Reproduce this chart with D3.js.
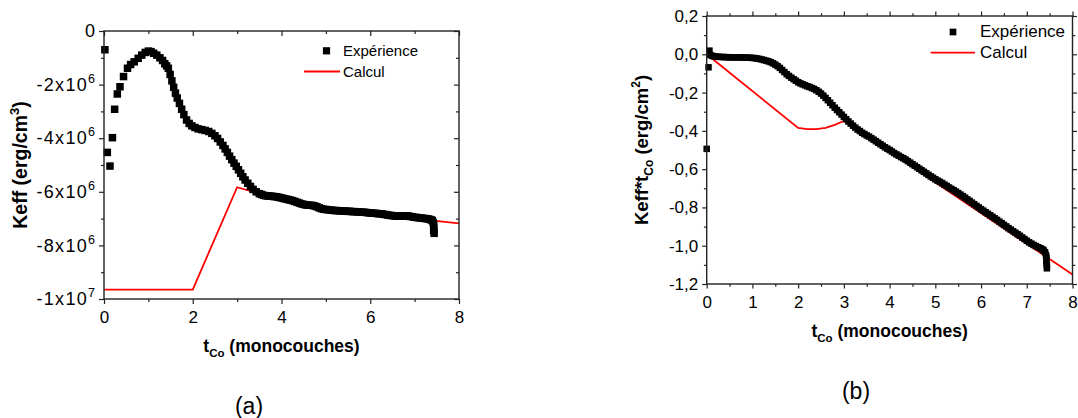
<!DOCTYPE html>
<html><head><meta charset="utf-8">
<script src="https://cdn.jsdelivr.net/npm/d3@7"></script>
<style>
body{margin:0;background:#fff}
svg{display:block}
text{font-family:Arial,"Liberation Sans",sans-serif;fill:#000}
</style>
</head><body>
<svg id="c" width="1078" height="418"></svg>
<script>
// ---------- Panel (a): Keff (units of 1e6 erg/cm3) vs t_Co ----------
const expA_x = [0.02,0.075,0.135,0.19,0.24,0.30,0.36,0.44,0.53,0.60,0.68,0.77,0.85,0.93,1.00,1.06,1.12,1.19,1.26,1.32,1.37,1.41,
  1.45,1.49,1.53,1.57,1.61,1.65,1.70,1.75,1.80,1.86,1.92,1.98,2.05,2.12,2.20,2.28,2.36,2.43,2.50,2.56,2.62,2.68,2.73,2.78,2.83,2.88,2.93,2.98,
  3.03,3.08,3.13,3.18,3.24,3.30,3.36,3.43,
  3.50,3.55,3.60,3.65,3.70,3.75,3.80,3.85,3.90,3.95,4.00,4.05,4.10,4.15,4.20,4.25,4.30,4.35,4.40,4.45,4.50,4.55,4.60,4.65,4.70,4.75,4.80,4.85,4.90,4.95,
  5.00,5.05,5.10,5.15,5.20,5.25,5.30,5.35,5.40,5.45,5.50,5.55,5.60,5.65,5.70,5.75,5.80,5.85,5.90,5.95,
  6.00,6.05,6.10,6.15,6.20,6.25,6.30,6.35,6.40,6.45,6.50,6.55,6.60,6.65,6.70,6.75,6.80,6.85,6.90,6.95,
  7.00,7.05,7.10,7.15,7.20,7.25,7.30,7.34,7.38,7.40,7.42,7.43,7.43,7.43,7.44];
const expA_y = [-0.70,-4.53,-5.04,-3.98,-2.92,-2.35,-2.08,-1.70,-1.39,-1.25,-1.15,-1.02,-0.90,-0.80,-0.75,-0.77,-0.83,-0.90,-1.00,-1.10,-1.22,-1.30,
  -1.39,-1.62,-1.86,-2.10,-2.32,-2.50,-2.70,-2.92,-3.12,-3.32,-3.45,-3.54,-3.60,-3.65,-3.68,-3.71,-3.75,-3.82,-3.91,-4.01,-4.14,-4.27,-4.40,-4.53,-4.67,-4.80,-4.93,-5.05,
  -5.18,-5.31,-5.44,-5.56,-5.68,-5.80,-5.91,-6.00,
  -6.07,-6.10,-6.13,-6.15,-6.16,-6.16,-6.17,-6.18,-6.19,-6.21,-6.23,-6.25,-6.27,-6.29,-6.31,-6.33,-6.36,-6.39,-6.42,-6.45,-6.47,-6.49,-6.50,-6.50,-6.51,-6.53,-6.56,-6.60,-6.63,-6.65,
  -6.66,-6.67,-6.68,-6.69,-6.70,-6.70,-6.71,-6.71,-6.72,-6.72,-6.73,-6.73,-6.74,-6.74,-6.75,-6.75,-6.76,-6.76,-6.77,-6.78,
  -6.79,-6.80,-6.80,-6.81,-6.82,-6.82,-6.84,-6.85,-6.87,-6.88,-6.89,-6.90,-6.91,-6.91,-6.90,-6.90,-6.90,-6.90,-6.92,-6.93,
  -6.95,-6.96,-6.97,-6.98,-6.99,-7.00,-7.01,-7.03,-7.05,-7.08,-7.15,-7.25,-7.35,-7.45,-7.55];
const calcA_x = [0, 2, 3, 4, 5, 6, 7, 8];
const calcA_y = [-9.65, -9.65, -5.83, -6.30, -6.60, -6.82, -7.00, -7.18];
const ticksA_x = [0, 2, 4, 6, 8];
const minorA_x = [1, 3, 5, 7];
const ticksA_y = [0, -2, -4, -6, -8, -10];
const minorA_y = [-1, -3, -5, -7, -9];
const tickLabA_y = [["0",""],["-2x10","6"],["-4x10","6"],["-6x10","6"],["-8x10","6"],["-1x10","7"]];

// ---------- Panel (b): Keff*t_Co (erg/cm2) vs t_Co ----------
const expB_x = [0.06,0.04,0.00,
  0.08,0.12,0.16,0.20,0.25,0.30,0.35,0.40,0.45,0.50,0.55,0.60,0.65,0.70,0.75,0.80,0.85,0.90,0.95,
  1.00,1.05,1.10,1.15,1.20,1.25,1.30,1.35,1.40,1.45,1.50,1.55,1.60,1.65,1.70,1.75,1.80,1.85,1.90,1.95,
  2.00,2.05,2.10,2.15,2.20,2.25,2.30,2.35,2.40,2.45,2.50,2.55,2.60,2.65,2.70,2.75,2.80,2.85,2.90,2.95,
  3.00,3.05,3.10,3.15,3.20,3.25,3.30,3.35,3.40,3.45,3.50,3.55,3.60,3.65,3.70,3.75,3.80,3.85,3.90,3.95,
  4.00,4.05,4.10,4.15,4.20,4.25,4.30,4.35,4.40,4.45,4.50,4.55,4.60,4.65,4.70,4.75,4.80,4.85,4.90,4.95,
  5.00,5.05,5.10,5.15,5.20,5.25,5.30,5.35,5.40,5.45,5.50,5.55,5.60,5.65,5.70,5.75,5.80,5.85,5.90,5.95,
  6.00,6.05,6.10,6.15,6.20,6.25,6.30,6.35,6.40,6.45,6.50,6.55,6.60,6.65,6.70,6.75,6.80,6.85,6.90,6.95,
  7.00,7.05,7.10,7.15,7.20,7.25,7.30,7.34,7.37,7.40,7.42,7.43,7.43,7.43,7.44,7.44];
const expB_y = [0.019,-0.068,-0.494,
  -0.004,-0.008,-0.011,-0.012,-0.013,-0.014,-0.014,-0.015,-0.015,-0.016,-0.016,-0.016,-0.016,-0.016,-0.016,-0.017,-0.017,-0.018,-0.018,
  -0.019,-0.020,-0.022,-0.024,-0.027,-0.030,-0.033,-0.037,-0.041,-0.047,-0.054,-0.062,-0.071,-0.082,-0.093,-0.104,-0.113,-0.122,-0.130,-0.138,
  -0.146,-0.152,-0.157,-0.162,-0.167,-0.171,-0.176,-0.181,-0.188,-0.196,-0.205,-0.216,-0.228,-0.240,-0.253,-0.266,-0.279,-0.291,-0.303,-0.315,
  -0.327,-0.339,-0.351,-0.362,-0.373,-0.383,-0.393,-0.401,-0.410,-0.417,-0.424,-0.430,-0.438,-0.446,-0.454,-0.462,-0.470,-0.478,-0.486,-0.493,
  -0.500,-0.508,-0.516,-0.523,-0.530,-0.537,-0.543,-0.550,-0.558,-0.566,-0.574,-0.582,-0.590,-0.598,-0.606,-0.614,-0.622,-0.630,-0.638,-0.645,
  -0.653,-0.660,-0.666,-0.673,-0.681,-0.688,-0.696,-0.703,-0.710,-0.717,-0.725,-0.733,-0.741,-0.749,-0.758,-0.766,-0.775,-0.783,-0.792,-0.800,
  -0.809,-0.817,-0.825,-0.833,-0.841,-0.849,-0.857,-0.865,-0.874,-0.882,-0.891,-0.899,-0.908,-0.916,-0.924,-0.932,-0.940,-0.948,-0.957,-0.965,
  -0.974,-0.982,-0.989,-0.996,-1.002,-1.008,-1.013,-1.019,-1.025,-1.034,-1.048,-1.062,-1.076,-1.090,-1.104,-1.118];
const calcB_x = [0, 2, 2.2, 2.4, 2.6, 2.8, 3, 8];
const calcB_y = [0, -0.385, -0.391, -0.391, -0.384, -0.369, -0.348, -1.150];
const ticksB_x = [0, 1, 2, 3, 4, 5, 6, 7, 8];
const minorB_x = [0.5, 1.5, 2.5, 3.5, 4.5, 5.5, 6.5, 7.5];
const ticksB_y = [0.2, 0, -0.2, -0.4, -0.6, -0.8, -1.0, -1.2];
const minorB_y = [0.1, -0.1, -0.3, -0.5, -0.7, -0.9, -1.1];
const tickLabB_y = ["0,2","0,0","-0,2","-0,4","-0,6","-0,8","-1,0","-1,2"];

const legendLabels = ["Expérience", "Calcul"];

const svg = d3.select("#c");
const AX = "#222";
const FONT = "Arial, 'Liberation Sans', sans-serif";

function zipXY(xs, ys){ return xs.map((x,i)=>[x, ys[i]]); }

function styleAxis(g){
  g.select(".domain").remove();
  g.selectAll(".tick line").attr("stroke", AX).attr("stroke-width", 1.2);
}

function panel(o){
  const x = d3.scaleLinear().domain(o.xd).range([o.L, o.R]);
  const y = d3.scaleLinear().domain(o.yd).range([o.B, o.T]);
  const g = svg.append("g");

  g.append("path").datum(zipXY(o.cx, o.cy))
    .attr("fill","none").attr("stroke","#ff0000").attr("stroke-width",1.8)
    .attr("d", d3.line().x(d=>x(d[0])).y(d=>y(d[1])));

  g.append("g").selectAll("rect").data(zipXY(o.ex, o.ey)).join("rect")
    .attr("x", d=>x(d[0]) - o.ms/2).attr("y", d=>y(d[1]) - o.ms/2)
    .attr("width", o.ms).attr("height", o.ms).attr("fill","#000");

  const bx = g.append("g").attr("transform",`translate(0,${o.B})`)
    .call(d3.axisBottom(x).tickValues(o.tx).tickSize(o.maj).tickSizeOuter(0).tickPadding(o.xpad).tickFormat(o.xfmt));
  styleAxis(bx);
  bx.selectAll(".tick text").style("font-size", o.xfs+"px").style("font-family",FONT).attr("fill","#000");
  const bxm = g.append("g").attr("transform",`translate(0,${o.B})`)
    .call(d3.axisBottom(x).tickValues(o.mx).tickSize(o.min).tickSizeOuter(0).tickFormat(""));
  styleAxis(bxm);

  const ly = g.append("g").attr("transform",`translate(${o.L},0)`)
    .call(d3.axisLeft(y).tickValues(o.ty).tickSize(o.maj).tickSizeOuter(0).tickPadding(o.ypad).tickFormat(()=>""));
  styleAxis(ly);
  ly.selectAll(".tick text").each(function(d,i){
    const t = d3.select(this).style("font-size", o.yfs+"px").style("font-family",FONT).attr("fill","#000");
    o.ylab(t, i);
  });
  const lym = g.append("g").attr("transform",`translate(${o.L},0)`)
    .call(d3.axisLeft(y).tickValues(o.my).tickSize(o.min).tickSizeOuter(0).tickFormat(""));
  styleAxis(lym);

  const s = o.mirrorIn ? -1 : 1;
  [[o.tx,o.maj],[o.mx,o.min]].forEach(([v,len])=>{
    const tg = g.append("g").attr("transform",`translate(0,${o.T})`)
      .call(d3.axisTop(x).tickValues(v).tickSize(s*len).tickSizeOuter(0).tickFormat(""));
    styleAxis(tg);
  });
  [[o.ty,o.maj],[o.my,o.min]].forEach(([v,len])=>{
    const rg = g.append("g").attr("transform",`translate(${o.R},0)`)
      .call(d3.axisRight(y).tickValues(v).tickSize(s*len).tickSizeOuter(0).tickFormat(""));
    styleAxis(rg);
  });

  g.append("rect").attr("x",o.L).attr("y",o.T).attr("width",o.R-o.L).attr("height",o.B-o.T)
    .attr("fill","none").attr("stroke",AX).attr("stroke-width",1.4);

  const lg = o.leg;
  g.append("rect").attr("x",lg.mx-lg.ms/2).attr("y",lg.my-lg.ms/2).attr("width",lg.ms).attr("height",lg.ms).attr("fill","#000");
  g.append("line").attr("x1",lg.l1).attr("x2",lg.l2).attr("y1",lg.ly).attr("y2",lg.ly)
    .attr("stroke","#ff0000").attr("stroke-width",1.8);
  g.append("text").attr("x",lg.tx).attr("y",lg.b1).style("font-size",lg.fs+"px").text(legendLabels[0]);
  g.append("text").attr("x",lg.tx).attr("y",lg.b2).style("font-size",lg.fs+"px").text(legendLabels[1]);

  const xt = g.append("text").attr("x",(o.L+o.R)/2).attr("y",o.xtb).attr("text-anchor","middle")
    .style("font-size","17.5px").style("font-weight","bold");
  xt.append("tspan").text("t");
  xt.append("tspan").attr("dy",5).style("font-size","11.5px").text("Co");
  xt.append("tspan").attr("dy",-5).text(" (monocouches)");

  const yt = g.append("text").attr("transform",`translate(${o.ytx},${(o.T+o.B)/2}) rotate(-90)`)
    .attr("text-anchor","middle").style("font-size",o.ytfs+"px").style("font-weight","bold");
  o.ytitle(yt);

  g.append("text").attr("x",o.pl[0]).attr("y",o.pl[1]).attr("text-anchor","middle")
    .style("font-size","23px").text(o.plabel);
}

panel({
  L:104, R:459, T:31, B:299, xd:[0,8], yd:[-10,0],
  ex:expA_x, ey:expA_y, cx:calcA_x, cy:calcA_y, ms:7.5,
  tx:ticksA_x, mx:minorA_x, ty:ticksA_y, my:minorA_y,
  maj:5, min:3, xpad:7, ypad:4, xfs:17, yfs:18, mirrorIn:true,
  xfmt:d=>String(d),
  ylab:(t,i)=>{
    const [base,ex] = tickLabA_y[i];
    t.text(null);
    t.append("tspan").style("letter-spacing", ex ? "1.3px" : "0px").text(base);
    if(ex) t.append("tspan").attr("dy",-8).style("font-size","12.5px").text(ex);
  },
  leg:{mx:326.5, my:50.8, ms:7.2, l1:304, l2:340, ly:71.5, tx:343, b1:56, b2:77, fs:15},
  xtb:352, ytx:27, ytfs:19.5,
  ytitle:(t)=>{
    t.append("tspan").text("Keff (erg/cm");
    t.append("tspan").attr("dy",-8).style("font-size","13px").text("3");
    t.append("tspan").attr("dy",8).text(")");
  },
  pl:[249,414], plabel:"(a)"
});

panel({
  L:706.7, R:1072.5, T:16, B:284, xd:[0,8], yd:[-1.2,0.2],
  ex:expB_x, ey:expB_y, cx:calcB_x, cy:calcB_y, ms:6.5,
  tx:ticksB_x, mx:minorB_x, ty:ticksB_y, my:minorB_y,
  maj:4.5, min:2.8, xpad:7.5, ypad:4, xfs:17, yfs:17, mirrorIn:false,
  xfmt:d=>String(d),
  ylab:(t,i)=>{ t.text(tickLabB_y[i]); },
  leg:{mx:953, my:32, ms:6.7, l1:930.7, l2:975, ly:52.7, tx:980, b1:37, b2:58, fs:17},
  xtb:337, ytx:648, ytfs:18.5,
  ytitle:(t)=>{
    t.append("tspan").text("Keff*t");
    t.append("tspan").attr("dy",5).style("font-size","12px").text("Co");
    t.append("tspan").attr("dy",-5).text(" (erg/cm");
    t.append("tspan").attr("dy",-8).style("font-size","12px").text("2");
    t.append("tspan").attr("dy",8).text(")");
  },
  pl:[856,399], plabel:"(b)"
});
</script>
</body></html>
